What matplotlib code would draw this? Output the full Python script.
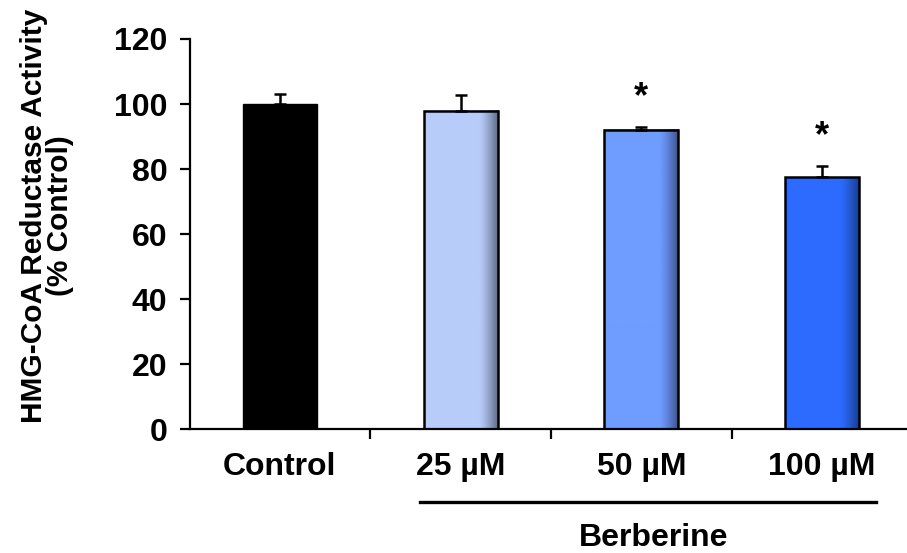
import numpy as np
import matplotlib
matplotlib.use("Agg")
import matplotlib.pyplot as plt
from matplotlib.colors import to_rgb

# Data
categories = ["Control", "25 µM", "50 µM", "100 µM"]
activity = [100.0, 98.0, 92.0, 77.5]
errors = [3.0, 4.8, 1.0, 3.5]
significant = [False, False, True, True]

bar_colors = ["#000000", "#B8CCFA", "#6F9CFF", "#2D6BFF"]
shade_colors = ["#000000", "#5A6580", "#3A5088", "#163A82"]

plt.rcParams['font.family'] = ['Liberation Sans', 'DejaVu Sans']
plt.rcParams['font.weight'] = 'bold'

fig = plt.figure(figsize=(9.07, 5.53), dpi=100)
ax = fig.add_axes([0.209, 0.224, 0.797, 0.7055])

x = np.arange(len(categories))
width = 0.41

for i in range(len(categories)):
    x0 = x[i] - width / 2
    h = activity[i]
    if i == 0:
        ax.bar(x[i], h, width, color=bar_colors[i], edgecolor="#000000",
               linewidth=1.0, zorder=2)
    else:
        # horizontal shading: flat colour with a darker band on the right side
        t = np.linspace(0, 1, 200)
        mix = np.clip((t - 0.74) / 0.26, 0, 1) ** 1.3
        c0 = np.array(to_rgb(bar_colors[i]))
        c1 = np.array(to_rgb(shade_colors[i]))
        grad = (1 - mix)[:, None] * c0 + mix[:, None] * c1
        ax.imshow(grad[None, :, :], extent=[x0, x0 + width, 0, h],
                  aspect="auto", interpolation="bilinear", zorder=2)
        ax.bar(x[i], h, width, color="none", edgecolor="#000000",
               linewidth=1.8, zorder=3)
    ax.errorbar(x[i], h, yerr=[[0], [errors[i]]], fmt="none", ecolor="black",
                elinewidth=1.8, capsize=4.5, capthick=1.8, zorder=4)
    if significant[i]:
        ax.text(x[i], h + errors[i] + 9, "*", ha="center", va="center",
                fontsize=26, fontweight="bold")

ax.set_xlim(-0.5, 3.5)
ax.set_ylim(0, 120)
ax.set_yticks(np.arange(0, 121, 20))
ax.set_xticks(x[:-1] + 0.5)
ax.set_xticklabels([])
ax.tick_params(axis="y", direction="out", length=7, width=1.6,
               labelsize=23, pad=9)
ax.tick_params(axis="x", direction="out", length=7, width=1.6)
for lab in ax.get_yticklabels():
    lab.set_fontweight("bold")

for s in ["top", "right"]:
    ax.spines[s].set_visible(False)
for s in ["left", "bottom"]:
    ax.spines[s].set_linewidth(1.6)

# category labels under the bars
for i, name in enumerate(categories):
    ax.text(x[i], -11.5, name, ha="center", va="center", fontsize=23,
            fontweight="bold", transform=ax.transData, clip_on=False)

# Berberine bracket line
ax.plot([0.775, 3.30], [-22.5, -22.5], color="black", linewidth=2.4,
        clip_on=False)
ax.text(2.07, -33.5, "Berberine", ha="center", va="center", fontsize=23,
        fontweight="bold", clip_on=False)

ax.set_ylabel("HMG-CoA Reductase Activity\n(% Control)", fontsize=21.5,
              fontweight="bold", linespacing=0.92)
ax.yaxis.set_label_coords(-0.16, 0.548)

fig.savefig("out.png", dpi=100)
